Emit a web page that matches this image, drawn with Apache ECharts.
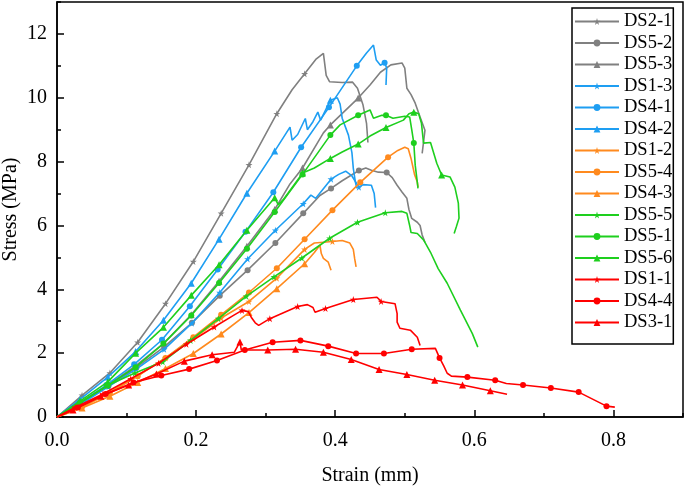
<!DOCTYPE html>
<html><head><meta charset="utf-8">
<script src="https://cdn.jsdelivr.net/npm/echarts@6/dist/echarts.min.js"></script>
<style>html,body{margin:0;padding:0;background:#fff}#c{width:685px;height:486px}</style>
</head><body><div id="c"></div>
<script>
// ---- data ----
const seriesNames = ['DS2-1','DS5-2','DS5-3','DS1-3','DS4-1','DS4-2','DS1-2','DS5-4','DS4-3','DS5-5','DS5-1','DS5-6','DS1-1','DS4-4','DS3-1'];
const xTickLabels = ['0.0','0.2','0.4','0.6','0.8'];
const yTickLabels = ['0','2','4','6','8','10','12'];

const DS2_1 = [[0,0],[0.036,0.68],[0.076,1.38],[0.116,2.34],[0.156,3.55],[0.196,4.87],[0.236,6.38],[0.276,7.9],[0.316,9.5],[0.338,10.25],[0.356,10.75],[0.372,11.2],[0.383,11.39],[0.387,10.7],[0.392,10.5],[0.41,10.48],[0.425,10.49],[0.432,10.3],[0.44,9.77],[0.445,9.2],[0.447,8.6]];
const DS5_2 = [[0,0],[0.034,0.45],[0.074,0.98],[0.114,1.55],[0.154,2.2],[0.194,2.95],[0.234,3.8],[0.274,4.6],[0.314,5.45],[0.354,6.38],[0.378,6.94],[0.394,7.16],[0.41,7.4],[0.434,7.72],[0.444,7.8],[0.452,7.73],[0.462,7.67],[0.474,7.66],[0.482,7.5],[0.489,7.26],[0.496,7.05],[0.503,6.85],[0.506,6.5],[0.51,6.22],[0.518,6.1],[0.522,6.0],[0.525,5.7],[0.529,5.47]];
const DS5_3 = [[0,0],[0.033,0.45],[0.073,1.0],[0.113,1.6],[0.153,2.3],[0.193,3.2],[0.233,4.25],[0.273,5.35],[0.313,6.5],[0.335,7.3],[0.353,7.8],[0.383,8.9],[0.393,9.15],[0.433,9.99],[0.45,10.4],[0.465,10.8],[0.48,11.03],[0.496,11.09],[0.5,10.93],[0.503,10.3],[0.509,10.1],[0.515,9.83],[0.522,9.4],[0.529,8.98],[0.525,8.26]];
const DS1_3 = [[0,0],[0.034,0.4],[0.074,0.95],[0.114,1.5],[0.154,2.12],[0.194,2.94],[0.234,3.9],[0.274,4.95],[0.314,5.85],[0.354,6.68],[0.365,6.95],[0.372,6.85],[0.394,7.45],[0.405,7.6],[0.415,7.7],[0.424,7.55],[0.434,7.2],[0.44,7.28],[0.452,7.26],[0.456,7.0],[0.458,6.56]];
const DS4_1 = [[0,0],[0.031,0.42],[0.071,1.0],[0.111,1.65],[0.151,2.42],[0.191,3.47],[0.231,4.62],[0.271,5.8],[0.311,7.04],[0.351,8.45],[0.391,9.7],[0.431,11.0],[0.445,11.4],[0.455,11.65],[0.459,11.18],[0.465,11.02],[0.471,11.1],[0.474,10.93],[0.473,10.4]];
const DS4_2 = [[0,0],[0.033,0.55],[0.073,1.25],[0.113,2.05],[0.153,3.03],[0.193,4.19],[0.233,5.57],[0.273,7.01],[0.313,8.33],[0.335,9.08],[0.338,8.67],[0.346,8.85],[0.357,9.35],[0.36,9.0],[0.368,9.25],[0.375,9.55],[0.379,9.3],[0.393,9.92],[0.403,10.0],[0.407,9.8],[0.41,9.36],[0.419,8.83],[0.424,8.28],[0.426,7.79],[0.429,7.36],[0.431,7.16]];
const DS1_2 = [[0,0],[0.036,0.3],[0.076,0.78],[0.116,1.3],[0.156,1.85],[0.196,2.45],[0.236,3.1],[0.276,3.62],[0.316,4.35],[0.356,5.25],[0.37,5.45],[0.396,5.5],[0.41,5.53],[0.421,5.45],[0.426,5.25],[0.428,4.95],[0.43,4.7]];
const DS5_4 = [[0,0],[0.036,0.32],[0.076,0.75],[0.116,1.28],[0.156,1.85],[0.196,2.5],[0.236,3.2],[0.276,3.9],[0.316,4.66],[0.356,5.57],[0.396,6.48],[0.436,7.35],[0.476,8.14],[0.49,8.35],[0.5,8.45],[0.505,8.4],[0.509,8.1],[0.512,7.8],[0.514,7.6],[0.518,7.36],[0.519,7.2]];
const DS4_3 = [[0,0],[0.036,0.28],[0.076,0.65],[0.116,1.08],[0.156,1.52],[0.196,1.99],[0.236,2.6],[0.276,3.27],[0.316,4.02],[0.356,4.8],[0.37,5.15],[0.378,5.38],[0.38,5.12],[0.383,4.97],[0.39,4.85],[0.394,4.6]];
const DS5_5 = [[0,0],[0.032,0.42],[0.072,0.98],[0.112,1.38],[0.152,1.73],[0.192,2.4],[0.232,3.08],[0.272,3.78],[0.312,4.39],[0.352,4.98],[0.392,5.6],[0.432,6.1],[0.472,6.4],[0.496,6.44],[0.503,6.38],[0.507,6.0],[0.509,5.78],[0.518,5.75],[0.527,5.55],[0.537,5.16],[0.548,4.65],[0.561,4.19],[0.58,3.35],[0.597,2.62],[0.605,2.19]];
const DS5_1 = [[0,0],[0.033,0.45],[0.073,0.99],[0.113,1.56],[0.153,2.3],[0.193,3.18],[0.233,4.2],[0.273,5.27],[0.313,6.42],[0.353,7.6],[0.393,8.83],[0.407,9.15],[0.433,9.45],[0.45,9.62],[0.455,9.36],[0.467,9.45],[0.473,9.45],[0.483,9.36],[0.5,9.42],[0.507,9.4],[0.51,9.0],[0.513,8.58],[0.515,7.89],[0.518,7.36],[0.519,7.16]];
const DS5_6 = [[0,0],[0.033,0.5],[0.073,1.1],[0.113,2.0],[0.153,2.81],[0.193,3.81],[0.233,4.77],[0.273,5.85],[0.313,6.87],[0.318,6.65],[0.325,6.8],[0.353,7.64],[0.37,7.8],[0.393,8.1],[0.41,8.3],[0.433,8.55],[0.45,8.8],[0.473,9.07],[0.498,9.3],[0.506,9.5],[0.513,9.55],[0.52,9.5],[0.524,9.2],[0.527,8.58],[0.537,8.6],[0.546,7.95],[0.553,7.58],[0.565,7.52],[0.572,7.2],[0.577,6.7],[0.578,6.23],[0.574,5.95],[0.571,5.75]];
const DS1_1 = [[0,0],[0.026,0.3],[0.066,0.72],[0.106,1.2],[0.146,1.68],[0.186,2.28],[0.226,2.82],[0.255,3.2],[0.266,3.34],[0.275,3.3],[0.28,3.1],[0.285,2.95],[0.29,2.87],[0.306,3.08],[0.346,3.46],[0.36,3.52],[0.368,3.43],[0.371,3.28],[0.386,3.4],[0.426,3.68],[0.445,3.72],[0.46,3.75],[0.466,3.62],[0.486,3.55],[0.489,3.24],[0.489,2.97],[0.493,2.78],[0.508,2.72],[0.518,2.5],[0.522,2.24]];
const DS4_4 = [[0,0],[0.03,0.3],[0.07,0.72],[0.11,1.08],[0.15,1.3],[0.19,1.5],[0.23,1.77],[0.27,2.1],[0.31,2.34],[0.35,2.4],[0.39,2.22],[0.43,1.99],[0.47,1.99],[0.51,2.12],[0.544,2.15],[0.547,2.0],[0.55,1.85],[0.556,1.6],[0.561,1.37],[0.567,1.28],[0.59,1.25],[0.63,1.15],[0.646,1.05],[0.67,1.0],[0.71,0.91],[0.75,0.78],[0.79,0.34],[0.802,0.31]];
const DS3_1 = [[0,0],[0.023,0.22],[0.063,0.65],[0.103,1.0],[0.143,1.35],[0.183,1.75],[0.223,1.95],[0.255,2.03],[0.263,2.35],[0.265,2.1],[0.283,2.1],[0.303,2.1],[0.343,2.12],[0.383,2.03],[0.423,1.8],[0.463,1.49],[0.503,1.33],[0.543,1.15],[0.583,1.0],[0.623,0.82],[0.647,0.71]];

const seriesData = [DS2_1, DS5_2, DS5_3, DS1_3, DS4_1, DS4_2, DS1_2, DS5_4, DS4_3, DS5_5, DS5_1, DS5_6, DS1_1, DS4_4, DS3_1];

// ---- style ----
const GRAY = '#808080', BLUE = '#1E9EF2', ORANGE = '#FF8A1E', GREEN = '#1ECF1E', RED = '#FF0000';
const STAR = 'path://M50,0 L61,35 L98,35 L68,57 L79,91 L50,70 L21,91 L32,57 L2,35 L39,35 Z';
const colors = [GRAY,GRAY,GRAY,BLUE,BLUE,BLUE,ORANGE,ORANGE,ORANGE,GREEN,GREEN,GREEN,RED,RED,RED];
const symbols = [STAR,'circle','triangle',STAR,'circle','triangle',STAR,'circle','triangle',STAR,'circle','triangle',STAR,'circle','triangle'];
const markOffsets = [0.036,0.034,0.033,0.034,0.031,0.033,0.036,0.036,0.036,0.032,0.033,0.033,0.026,0.03,0.023];
const FONT = 'Liberation Serif';

function markSize(off, size) {
  return function (v) {
    const r = (v[0] - off) / 0.04;
    return (v[0] > 0.01 && Math.abs(r - Math.round(r)) * 0.04 < 0.0012) ? size : 0;
  };
}

const series = seriesNames.map((name, i) => ({
  name: name,
  type: 'line',
  data: seriesData[i],
  xAxisIndex: 0, yAxisIndex: 0,
  showSymbol: true,
  symbol: symbols[i],
  symbolSize: markSize(markOffsets[i], symbols[i] === 'circle' ? 6 : 7),
  color: colors[i],
  itemStyle: { color: colors[i] },
  lineStyle: { color: colors[i], width: 1.6 },
  animation: false,
  z: 2 + i
}));

const chart = echarts.init(document.getElementById('c'), null, { renderer: 'canvas' });
chart.setOption({
  animation: false,
  backgroundColor: '#fff',
  textStyle: { fontFamily: FONT },
  grid: { left: 57, right: 2, top: 2, bottom: 69, containLabel: false, outerBoundsMode: 'none',
    show: true, borderColor: '#000', borderWidth: 1.5, backgroundColor: 'transparent' },
  legend: {
    orient: 'vertical', left: 572, top: 8,
    itemWidth: 44, itemHeight: 8.5, itemGap: 2.5,
    padding: [4, 1, 12, 2],
    borderColor: '#000', borderWidth: 1.5,
    backgroundColor: '#fff',
    textStyle: { fontFamily: FONT, fontSize: 18.5, color: '#000' },
    data: seriesNames
  },
  xAxis: [{
    type: 'value', min: 0, max: 0.9, interval: 0.2, position: 'bottom',
    name: 'Strain (mm)', nameLocation: 'middle', nameGap: 49, nameMoveOverlap: false,
    nameTextStyle: { fontFamily: FONT, fontSize: 20, color: '#000' },
    axisLine: { show: true, onZero: false, lineStyle: { color: '#000', width: 1.5 } },
    axisTick: { show: true, inside: true, length: 7, lineStyle: { color: '#000', width: 1.5 } },
    axisLabel: { fontFamily: FONT, fontSize: 20, color: '#000', margin: 14, showMaxLabel: false,
      formatter: v => xTickLabels[Math.round(v / 0.2)] || '' },
    splitLine: { show: false }
  }, {
    type: 'value', min: 0, max: 0.9, interval: 0.1, position: 'bottom', offset: 0,
    axisLine: { show: false },
    axisTick: { show: true, inside: true, length: 4, lineStyle: { color: '#000', width: 1.5 } },
    axisLabel: { show: false }, splitLine: { show: false }
  }],
  yAxis: [{
    type: 'value', min: 0, max: 13, interval: 2, position: 'left',
    name: 'Stress (MPa)', nameLocation: 'middle', nameGap: 36, nameMoveOverlap: false,
    nameTextStyle: { fontFamily: FONT, fontSize: 20, color: '#000' },
    axisLine: { show: true, onZero: false, lineStyle: { color: '#000', width: 1.5 } },
    axisTick: { show: true, inside: true, length: 7, lineStyle: { color: '#000', width: 1.5 } },
    axisLabel: { fontFamily: FONT, fontSize: 20, color: '#000', margin: 10, showMaxLabel: false,
      formatter: v => yTickLabels[Math.round(v / 2)] || '' },
    splitLine: { show: false }
  }, {
    type: 'value', min: 0, max: 13, interval: 1, position: 'left', offset: 0,
    axisLine: { show: false },
    axisTick: { show: true, inside: true, length: 4, lineStyle: { color: '#000', width: 1.5 } },
    axisLabel: { show: false }, splitLine: { show: false }
  }],
  series: series
});
</script>
</body></html>
